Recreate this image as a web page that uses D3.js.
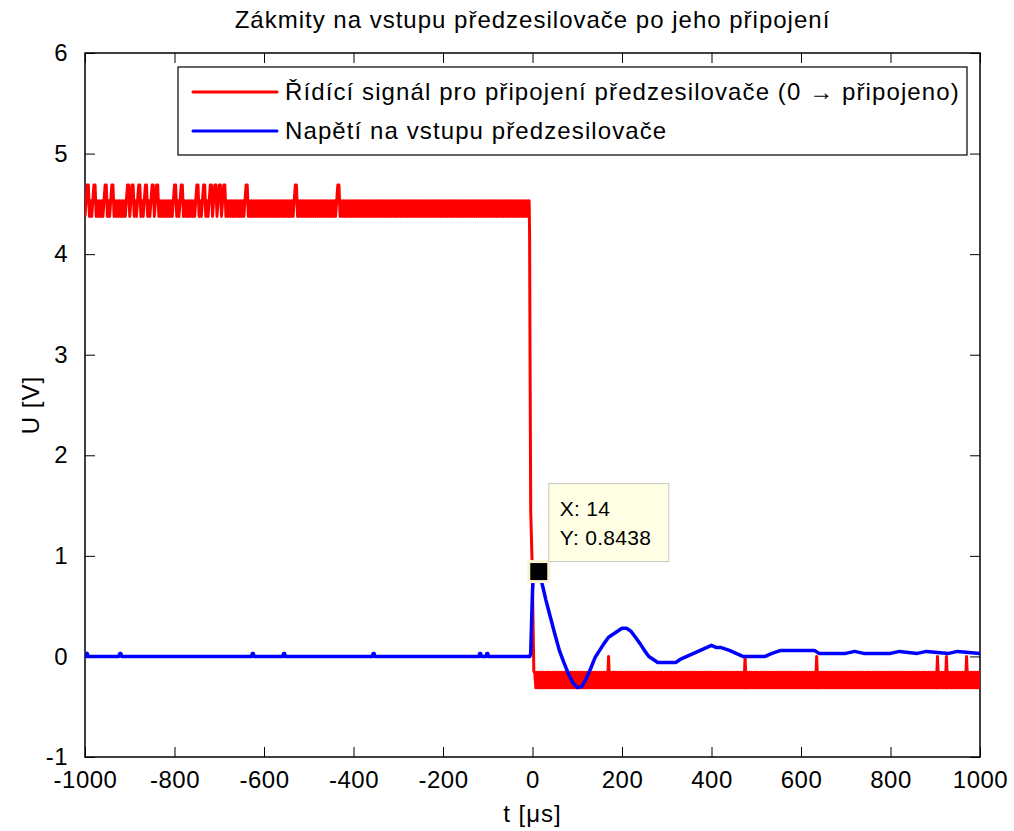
<!DOCTYPE html>
<html>
<head>
<meta charset="utf-8">
<script src="https://cdn.jsdelivr.net/npm/d3@7"></script>
<style>
  body { margin: 0; background: #fff; overflow: hidden; }
  svg { display: block; }
  text { font-family: "Liberation Sans", Arial, sans-serif; fill: #000; }
</style>
</head>
<body>
<svg id="frame"></svg>
<script>
// ---- data ----
const xTicks = [-1000, -800, -600, -400, -200, 0, 200, 400, 600, 800, 1000];
const yTicks = [-1, 0, 1, 2, 3, 4, 5, 6];

// control signal before switching, one 5 us slot per char from -1000 us.
// each slot holds two ADC samples: n = (4.375, 4.53125), s = (4.6875, 4.6875)
const redPreCodes =
  "nsnnsnnnns" + "nnsnnnnnns" + "nsnnsnnsnn" + "snsnnnnnnn" + "snnsnnnnnn" +
  "snnsnnsnsn" + "snsnnnnnnn" + "nnsnnnnnnn" + "nnnnnnnnnn" + "nnnnsnnnnn" +
  "nnnnnnnnnn" + "nnnsnnnnnn" + "nnnnnnnnnn" + "nnnnnnnnnn" + "nnnnnnnnnn" +
  "nnnnnnnnnn" + "nnnnnnnnnn" + "nnnnnnnnnn" + "nnnnnnnnnn" + "nnnnnnnnn";
const redPreFirst = {n: 4.375, s: 4.6875};
const redPreSecond = {n: 4.53125, s: 4.6875};

// the edge itself
const redStepT = [-6.5, -5.5, -4, -1, 3];
const redStepV = [4.2, 3.0, 1.45, 0.95, -0.15];

// control signal after switching, one 5 us slot per char from 5 us.
// n = (-0.15625, -0.3125), s = (0, -0.3125)
const redPostCodes =
  "nnnnnnnnnn" + "nnnnnnnnnn" + "nnnnnnnnnn" + "nnnsnnnnnn" + "nnnnnnnnnn" +
  "nnnnnnnnnn" + "nnnnnnnnnn" + "nnnnnnnnnn" + "nnnnnnnnnn" + "nnnnsnnnnn" +
  "nnnnnnnnnn" + "nnnnnnnnnn" + "nnnnnnsnnn" + "nnnnnnnnnn" + "nnnnnnnnnn" +
  "nnnnnnnnnn" + "nnnnnnnnnn" + "nnnnnnnnnn" + "snnnsnnnnn" + "nnnsnnnnnn";
const redPostFirst = {n: -0.15625, s: 0};
const redPostSecond = {n: -0.3125, s: -0.3125};

// preamp input voltage
const blueT = [-1000, -997, -995, -993, -925, -922, -920, -918, -628, -626, -624, -622,
  -558, -556, -554, -552, -358, -356, -354, -352, -120, -118, -116, -114, -104, -102, -100,
  -98, -6, -4, -2, 0, 2, 5, 14, 20, 30, 40, 50, 60, 70, 80, 90, 100, 110, 120, 130, 140,
  150, 160, 170, 180, 190, 200, 210, 220, 230, 240, 250, 260, 270, 280, 300, 320, 330,
  345, 360, 375, 390, 400, 410, 420, 440, 455, 470, 490, 520, 535, 555, 600, 630, 640,
  700, 720, 740, 800, 820, 860, 880, 930, 950, 1000];
const blueV = [0, 0, 0.03, 0, 0, 0.03, 0.03, 0, 0, 0.03, 0.03, 0,
  0, 0.03, 0.03, 0, 0, 0.03, 0.03, 0, 0, 0.03, 0.03, 0, 0, 0.03, 0.03,
  0, 0, 0.03, 0.35, 0.65, 0.8, 0.84, 0.8438, 0.75, 0.56, 0.39, 0.22, 0.06, -0.06, -0.17,
  -0.26, -0.31, -0.3, -0.22, -0.12, -0.01, 0.06, 0.13, 0.19, 0.22, 0.25, 0.28, 0.28,
  0.25, 0.19, 0.13, 0.06, 0, -0.03, -0.06, -0.06, -0.06, -0.03, 0, 0.03, 0.06, 0.09,
  0.11, 0.09, 0.09, 0.06, 0.03, 0, 0, 0, 0.03, 0.06, 0.06, 0.06, 0.03, 0.03, 0.05,
  0.03, 0.03, 0.05, 0.03, 0.05, 0.03, 0.05, 0.03];

const tipX = 14;
const tipY = 0.8438;

const titleText = "Zákmity na vstupu předzesilovače po jeho připojení";
const legendLabels = ["Řídící signál pro připojení předzesilovače (0 \u2192 připojeno)",
                      "Napětí na vstupu předzesilovače"];
const legendColors = ["#ff0000", "#0000ff"];

// -------------------
const width = 1014;
const height = 831;
const margin = {left: 85, right: 34, top: 53, bottom: 74};
const innerWidth = width - margin.left - margin.right;
const innerHeight = height - margin.top - margin.bottom;

const redData = [];
for (let i = 0; i < redPreCodes.length; i++) {
  const t0 = -1000 + 5 * i;
  redData.push({x: t0, y: redPreFirst[redPreCodes[i]]});
  redData.push({x: t0 + 2.5, y: redPreSecond[redPreCodes[i]]});
}
redStepT.forEach((t, i) => redData.push({x: t, y: redStepV[i]}));
for (let i = 0; i < redPostCodes.length; i++) {
  const t0 = 5 + 5 * i;
  redData.push({x: t0, y: redPostFirst[redPostCodes[i]]});
  redData.push({x: t0 + 2.5, y: redPostSecond[redPostCodes[i]]});
}
const blueData = blueT.map((t, i) => ({x: t, y: blueV[i]}));

const svg = d3.select('#frame')
  .attr('width', width)
  .attr('height', height);

const xScale = d3.scaleLinear().domain([-1000, 1000]).range([0, innerWidth]);
const yScale = d3.scaleLinear().domain([-1, 6]).range([innerHeight, 0]);

const g = svg.append('g').attr('transform', `translate(${margin.left},${margin.top})`);

g.append('defs').append('clipPath').attr('id', 'clip')
  .append('rect').attr('width', innerWidth).attr('height', innerHeight);

// axes, ticks pointing inward on all four sides
const tickLen = 10;
const axisFont = 24;
const xb = g.append('g').attr('transform', `translate(0,${innerHeight})`)
  .call(d3.axisBottom(xScale).tickValues(xTicks).tickSizeInner(-tickLen).tickSizeOuter(0).tickPadding(14).tickFormat(d => String(d)));
const xt = g.append('g')
  .call(d3.axisTop(xScale).tickValues(xTicks).tickSizeInner(-tickLen).tickSizeOuter(0));
const yl = g.append('g')
  .call(d3.axisLeft(yScale).tickValues(yTicks).tickSizeInner(-tickLen).tickSizeOuter(0).tickPadding(17).tickFormat(d => String(d)));
const yr = g.append('g').attr('transform', `translate(${innerWidth},0)`)
  .call(d3.axisRight(yScale).tickValues(yTicks).tickSizeInner(-tickLen).tickSizeOuter(0));

xt.selectAll('text').remove();
yr.selectAll('text').remove();
[xb, xt, yl, yr].forEach(a => {
  a.select('.domain').remove();
  a.selectAll('line').attr('stroke', '#000').attr('stroke-width', 1);
  a.selectAll('text').attr('font-size', axisFont).attr('font-family', '"Liberation Sans", Arial, sans-serif')
    .attr('fill', '#000').attr('letter-spacing', 0.5);
});
xb.selectAll('text').attr('dy', '0.71em');

g.append('rect')
  .attr('width', innerWidth).attr('height', innerHeight)
  .attr('fill', 'none').attr('stroke', '#000').attr('stroke-width', 1.5);

// curves
const line = d3.line().x(d => xScale(d.x)).y(d => yScale(d.y));
const plot = g.append('g').attr('clip-path', 'url(#clip)');
plot.append('path').datum(redData)
  .attr('d', line).attr('fill', 'none').attr('stroke', legendColors[0])
  .attr('stroke-width', 3).attr('stroke-linejoin', 'round');
plot.append('path').datum(blueData)
  .attr('d', line).attr('fill', 'none').attr('stroke', legendColors[1])
  .attr('stroke-width', 3.5).attr('stroke-linejoin', 'round');

// data tip
const mx = xScale(tipX), my = yScale(tipY);
g.append('rect').attr('x', mx - 10).attr('y', my - 10).attr('width', 20).attr('height', 20)
  .attr('fill', '#000').attr('stroke', '#f7f3d0').attr('stroke-width', 3);
const tip = g.append('g').attr('transform', `translate(${mx + 10},${my - 88})`);
tip.append('rect').attr('width', 120).attr('height', 78)
  .attr('fill', '#ffffe6').attr('stroke', '#c8c8c0').attr('stroke-width', 1);
tip.append('text').attr('x', 11).attr('y', 32).attr('font-size', 21).attr('letter-spacing', 0.3).text(`X: ${tipX}`);
tip.append('text').attr('x', 11).attr('y', 61).attr('font-size', 21).attr('letter-spacing', 0.3).text(`Y: ${tipY}`);

// legend
const leg = svg.append('g').attr('transform', 'translate(178,67)');
leg.append('rect').attr('width', 789).attr('height', 88)
  .attr('fill', '#fff').attr('stroke', '#000').attr('stroke-width', 1.2);
legendLabels.forEach((lab, i) => {
  const ly = 25 + 39 * i;
  leg.append('line').attr('x1', 15).attr('x2', 99).attr('y1', ly).attr('y2', ly)
    .attr('stroke', legendColors[i]).attr('stroke-width', 3).attr('stroke-linecap', 'round');
  leg.append('text').attr('x', 107).attr('y', ly + 8).attr('font-size', 24)
    .attr('letter-spacing', 1.1).text(lab);
});

// titles
svg.append('text').attr('x', margin.left + innerWidth / 2).attr('y', 28)
  .attr('text-anchor', 'middle').attr('font-size', 24).attr('letter-spacing', 1).text(titleText);
svg.append('text').attr('x', margin.left + innerWidth / 2).attr('y', 822)
  .attr('text-anchor', 'middle').attr('font-size', 24).attr('letter-spacing', 1).text('t [\u03bcs]');
svg.append('text').attr('transform', `translate(39,${margin.top + innerHeight / 2}) rotate(-90)`)
  .attr('text-anchor', 'middle').attr('font-size', 24).attr('letter-spacing', 1).text('U [V]');
</script>
</body>
</html>
